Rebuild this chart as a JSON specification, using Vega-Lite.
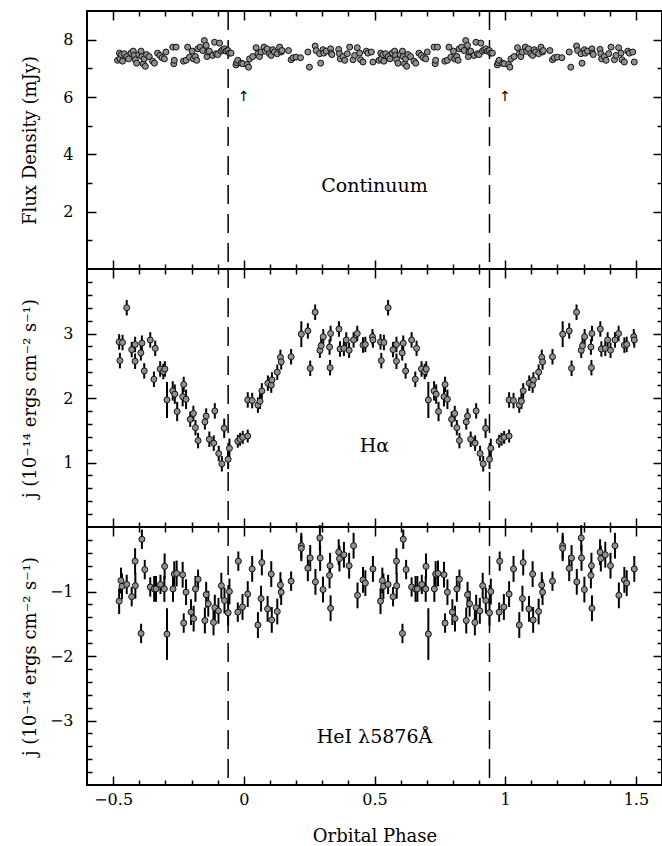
{
"$schema":"https://vega.github.io/schema/vega-lite/v6.json",
"padding":{"left":20,"top":9,"right":0,"bottom":0},
"background":"white",
"datasets":{
"cont":[
{"p":-0.483,"v":7.28},{"p":-0.476,"v":7.53},{"p":-0.474,"v":7.33},{"p":-0.468,"v":7.48},{"p":-0.464,"v":7.25},{"p":-0.457,"v":7.51},{"p":-0.448,"v":7.41},{"p":-0.441,"v":7.33},{"p":-0.432,"v":7.53},{"p":-0.423,"v":7.60},{"p":-0.419,"v":7.45},{"p":-0.415,"v":7.30},{"p":-0.410,"v":7.18},{"p":-0.402,"v":7.48},{"p":-0.393,"v":7.60},{"p":-0.390,"v":7.41},{"p":-0.385,"v":7.16},{"p":-0.381,"v":7.33},{"p":-0.377,"v":7.07},{"p":-0.372,"v":7.48},{"p":-0.362,"v":7.41},{"p":-0.349,"v":7.25},{"p":-0.342,"v":7.18},{"p":-0.330,"v":7.53},{"p":-0.321,"v":7.45},{"p":-0.313,"v":7.37},{"p":-0.304,"v":7.33},{"p":-0.298,"v":7.57},{"p":-0.272,"v":7.74},{"p":-0.268,"v":7.16},{"p":-0.266,"v":7.28},{"p":-0.259,"v":7.74},{"p":-0.231,"v":7.25},{"p":-0.221,"v":7.28},{"p":-0.215,"v":7.74},{"p":-0.208,"v":7.39},{"p":-0.198,"v":7.60},{"p":-0.193,"v":7.33},{"p":-0.185,"v":7.41},{"p":-0.180,"v":7.28},{"p":-0.176,"v":7.68},{"p":-0.167,"v":7.74},{"p":-0.157,"v":7.62},{"p":-0.151,"v":7.97},{"p":-0.144,"v":7.80},{"p":-0.141,"v":7.41},{"p":-0.138,"v":7.57},{"p":-0.132,"v":7.60},{"p":-0.119,"v":7.45},{"p":-0.112,"v":7.91},{"p":-0.106,"v":7.51},{"p":-0.100,"v":7.48},{"p":-0.093,"v":7.88},{"p":-0.087,"v":7.60},{"p":-0.081,"v":7.65},{"p":-0.074,"v":7.68},{"p":-0.068,"v":7.60},{"p":-0.061,"v":7.62},{"p":-0.055,"v":7.53},{"p":-0.049,"v":7.53},{"p":-0.030,"v":7.12},{"p":-0.027,"v":7.20},{"p":-0.023,"v":7.28},{"p":-0.010,"v":7.18},{"p":-0.004,"v":7.16},{"p":0.013,"v":7.13},{"p":0.018,"v":7.04},{"p":0.022,"v":7.33},{"p":0.034,"v":7.41},{"p":0.047,"v":7.72},{"p":0.054,"v":7.51},{"p":0.060,"v":7.41},{"p":0.066,"v":7.57},{"p":0.077,"v":7.74},{"p":0.082,"v":7.60},{"p":0.089,"v":7.68},{"p":0.098,"v":7.51},{"p":0.105,"v":7.45},{"p":0.111,"v":7.65},{"p":0.117,"v":7.57},{"p":0.128,"v":7.51},{"p":0.137,"v":7.74},{"p":0.143,"v":7.57},{"p":0.146,"v":7.62},{"p":0.171,"v":7.62},{"p":0.181,"v":7.30},{"p":0.188,"v":7.37},{"p":0.200,"v":7.39},{"p":0.217,"v":7.37},{"p":0.245,"v":7.57},{"p":0.251,"v":7.04},{"p":0.273,"v":7.78},{"p":0.277,"v":7.62},{"p":0.290,"v":7.51},{"p":0.294,"v":7.18},{"p":0.303,"v":7.65},{"p":0.306,"v":7.53},{"p":0.315,"v":7.60},{"p":0.332,"v":7.68},{"p":0.334,"v":7.53},{"p":0.337,"v":7.48},{"p":0.363,"v":7.66},{"p":0.366,"v":7.51},{"p":0.369,"v":7.33},{"p":0.379,"v":7.41},{"p":0.386,"v":7.28},{"p":0.396,"v":7.51},{"p":0.405,"v":7.74},{"p":0.418,"v":7.30},{"p":0.424,"v":7.45},{"p":0.434,"v":7.72},{"p":0.443,"v":7.53},{"p":0.447,"v":7.30},{"p":0.456,"v":7.22},{"p":0.469,"v":7.60},{"p":0.475,"v":7.53},{"p":0.488,"v":7.57},{"p":0.494,"v":7.22},
{"p":0.517,"v":7.28},{"p":0.524,"v":7.53},{"p":0.526,"v":7.33},{"p":0.532,"v":7.48},{"p":0.536,"v":7.25},{"p":0.543,"v":7.51},{"p":0.552,"v":7.41},{"p":0.559,"v":7.33},{"p":0.568,"v":7.53},{"p":0.577,"v":7.60},{"p":0.581,"v":7.45},{"p":0.585,"v":7.30},{"p":0.590,"v":7.18},{"p":0.598,"v":7.48},{"p":0.607,"v":7.60},{"p":0.610,"v":7.41},{"p":0.615,"v":7.16},{"p":0.619,"v":7.33},{"p":0.623,"v":7.07},{"p":0.628,"v":7.48},{"p":0.638,"v":7.41},{"p":0.651,"v":7.25},{"p":0.658,"v":7.18},{"p":0.670,"v":7.53},{"p":0.679,"v":7.45},{"p":0.687,"v":7.37},{"p":0.696,"v":7.33},{"p":0.702,"v":7.57},{"p":0.728,"v":7.74},{"p":0.732,"v":7.16},{"p":0.734,"v":7.28},{"p":0.741,"v":7.74},{"p":0.769,"v":7.25},{"p":0.779,"v":7.28},{"p":0.785,"v":7.74},{"p":0.792,"v":7.39},{"p":0.802,"v":7.60},{"p":0.807,"v":7.33},{"p":0.815,"v":7.41},{"p":0.820,"v":7.28},{"p":0.824,"v":7.68},{"p":0.833,"v":7.74},{"p":0.843,"v":7.62},{"p":0.849,"v":7.97},{"p":0.856,"v":7.80},{"p":0.859,"v":7.41},{"p":0.862,"v":7.57},{"p":0.868,"v":7.60},{"p":0.881,"v":7.45},{"p":0.888,"v":7.91},{"p":0.894,"v":7.51},{"p":0.900,"v":7.48},{"p":0.907,"v":7.88},{"p":0.913,"v":7.60},{"p":0.919,"v":7.65},{"p":0.926,"v":7.68},{"p":0.932,"v":7.60},{"p":0.939,"v":7.62},{"p":0.945,"v":7.53},{"p":0.951,"v":7.53},{"p":0.970,"v":7.12},{"p":0.973,"v":7.20},{"p":0.977,"v":7.28},{"p":0.990,"v":7.18},{"p":0.996,"v":7.16},{"p":1.013,"v":7.13},{"p":1.018,"v":7.04},{"p":1.022,"v":7.33},{"p":1.034,"v":7.41},{"p":1.047,"v":7.72},{"p":1.054,"v":7.51},{"p":1.060,"v":7.41},{"p":1.066,"v":7.57},{"p":1.077,"v":7.74},{"p":1.082,"v":7.60},{"p":1.089,"v":7.68},{"p":1.098,"v":7.51},{"p":1.105,"v":7.45},{"p":1.111,"v":7.65},{"p":1.117,"v":7.57},{"p":1.128,"v":7.51},{"p":1.137,"v":7.74},{"p":1.143,"v":7.57},{"p":1.146,"v":7.62},{"p":1.171,"v":7.62},{"p":1.181,"v":7.30},{"p":1.188,"v":7.37},{"p":1.200,"v":7.39},{"p":1.217,"v":7.37},{"p":1.245,"v":7.57},{"p":1.251,"v":7.04},{"p":1.273,"v":7.78},{"p":1.277,"v":7.62},{"p":1.290,"v":7.51},{"p":1.294,"v":7.18},{"p":1.303,"v":7.65},{"p":1.306,"v":7.53},{"p":1.315,"v":7.60},{"p":1.332,"v":7.68},{"p":1.334,"v":7.53},{"p":1.337,"v":7.48},{"p":1.363,"v":7.66},{"p":1.366,"v":7.51},{"p":1.369,"v":7.33},{"p":1.379,"v":7.41},{"p":1.386,"v":7.28},{"p":1.396,"v":7.51},{"p":1.405,"v":7.74},{"p":1.418,"v":7.30},{"p":1.424,"v":7.45},{"p":1.434,"v":7.72},{"p":1.443,"v":7.53},{"p":1.447,"v":7.30},{"p":1.456,"v":7.22},{"p":1.469,"v":7.60},{"p":1.475,"v":7.53},{"p":1.488,"v":7.57},{"p":1.494,"v":7.22}
],
"ha":[
{"p":-0.477,"v":2.87,"e":0.12},{"p":-0.474,"v":2.58,"e":0.12},{"p":-0.464,"v":2.86,"e":0.12},{"p":-0.448,"v":3.40,"e":0.12},{"p":-0.429,"v":2.75,"e":0.12},{"p":-0.416,"v":2.83,"e":0.12},{"p":-0.416,"v":2.57,"e":0.12},{"p":-0.394,"v":2.70,"e":0.12},{"p":-0.390,"v":2.85,"e":0.12},{"p":-0.381,"v":2.42,"e":0.12},{"p":-0.358,"v":2.90,"e":0.12},{"p":-0.344,"v":2.29,"e":0.12},{"p":-0.339,"v":2.77,"e":0.12},{"p":-0.320,"v":2.45,"e":0.12},{"p":-0.308,"v":2.41,"e":0.12},{"p":-0.302,"v":2.45,"e":0.12},{"p":-0.294,"v":1.97,"e":0.28},{"p":-0.272,"v":2.11,"e":0.15},{"p":-0.264,"v":2.06,"e":0.15},{"p":-0.255,"v":1.79,"e":0.15},{"p":-0.234,"v":2.02,"e":0.15},{"p":-0.230,"v":2.21,"e":0.12},{"p":-0.221,"v":1.98,"e":0.15},{"p":-0.205,"v":1.67,"e":0.12},{"p":-0.193,"v":1.76,"e":0.12},{"p":-0.185,"v":1.54,"e":0.12},{"p":-0.175,"v":1.34,"e":0.12},{"p":-0.149,"v":1.63,"e":0.12},{"p":-0.144,"v":1.72,"e":0.12},{"p":-0.132,"v":1.36,"e":0.12},{"p":-0.115,"v":1.30,"e":0.12},{"p":-0.111,"v":1.80,"e":0.12},{"p":-0.096,"v":1.14,"e":0.12},{"p":-0.084,"v":0.98,"e":0.12},{"p":-0.075,"v":1.53,"e":0.15},{"p":-0.060,"v":1.05,"e":0.15},{"p":-0.055,"v":1.22,"e":0.15},{"p":-0.023,"v":1.33,"e":0.1},{"p":-0.014,"v":1.36,"e":0.1},{"p":-0.004,"v":1.39,"e":0.1},{"p":0.015,"v":1.41,"e":0.1},{"p":0.015,"v":1.97,"e":0.12},{"p":0.032,"v":1.96,"e":0.12},{"p":0.054,"v":1.89,"e":0.12},{"p":0.062,"v":1.95,"e":0.12},{"p":0.069,"v":2.11,"e":0.12},{"p":0.092,"v":2.23,"e":0.12},{"p":0.105,"v":2.20,"e":0.12},{"p":0.108,"v":2.28,"e":0.12},{"p":0.128,"v":2.40,"e":0.12},{"p":0.140,"v":2.63,"e":0.12},{"p":0.143,"v":2.56,"e":0.12},{"p":0.181,"v":2.64,"e":0.12},{"p":0.220,"v":2.99,"e":0.2},{"p":0.245,"v":3.04,"e":0.12},{"p":0.254,"v":2.46,"e":0.12},{"p":0.273,"v":3.33,"e":0.12},{"p":0.291,"v":2.74,"e":0.12},{"p":0.296,"v":2.81,"e":0.12},{"p":0.304,"v":2.95,"e":0.12},{"p":0.328,"v":2.79,"e":0.12},{"p":0.332,"v":3.00,"e":0.12},{"p":0.330,"v":2.47,"e":0.12},{"p":0.364,"v":3.07,"e":0.12},{"p":0.368,"v":2.76,"e":0.12},{"p":0.383,"v":2.77,"e":0.12},{"p":0.392,"v":2.90,"e":0.12},{"p":0.403,"v":2.74,"e":0.12},{"p":0.420,"v":2.90,"e":0.12},{"p":0.434,"v":3.00,"e":0.12},{"p":0.456,"v":2.82,"e":0.12},{"p":0.465,"v":2.83,"e":0.12},{"p":0.492,"v":2.95,"e":0.12},{"p":0.494,"v":2.90,"e":0.12},
{"p":0.523,"v":2.87,"e":0.12},{"p":0.526,"v":2.58,"e":0.12},{"p":0.536,"v":2.86,"e":0.12},{"p":0.552,"v":3.40,"e":0.12},{"p":0.571,"v":2.75,"e":0.12},{"p":0.584,"v":2.83,"e":0.12},{"p":0.584,"v":2.57,"e":0.12},{"p":0.606,"v":2.70,"e":0.12},{"p":0.610,"v":2.85,"e":0.12},{"p":0.619,"v":2.42,"e":0.12},{"p":0.642,"v":2.90,"e":0.12},{"p":0.656,"v":2.29,"e":0.12},{"p":0.661,"v":2.77,"e":0.12},{"p":0.680,"v":2.45,"e":0.12},{"p":0.692,"v":2.41,"e":0.12},{"p":0.698,"v":2.45,"e":0.12},{"p":0.706,"v":1.97,"e":0.28},{"p":0.728,"v":2.11,"e":0.15},{"p":0.736,"v":2.06,"e":0.15},{"p":0.745,"v":1.79,"e":0.15},{"p":0.766,"v":2.02,"e":0.15},{"p":0.770,"v":2.21,"e":0.12},{"p":0.779,"v":1.98,"e":0.15},{"p":0.795,"v":1.67,"e":0.12},{"p":0.807,"v":1.76,"e":0.12},{"p":0.815,"v":1.54,"e":0.12},{"p":0.825,"v":1.34,"e":0.12},{"p":0.851,"v":1.63,"e":0.12},{"p":0.856,"v":1.72,"e":0.12},{"p":0.868,"v":1.36,"e":0.12},{"p":0.885,"v":1.30,"e":0.12},{"p":0.889,"v":1.80,"e":0.12},{"p":0.904,"v":1.14,"e":0.12},{"p":0.916,"v":0.98,"e":0.12},{"p":0.925,"v":1.53,"e":0.15},{"p":0.940,"v":1.05,"e":0.15},{"p":0.945,"v":1.22,"e":0.15},{"p":0.977,"v":1.33,"e":0.1},{"p":0.986,"v":1.36,"e":0.1},{"p":0.996,"v":1.39,"e":0.1},{"p":1.015,"v":1.41,"e":0.1},{"p":1.015,"v":1.97,"e":0.12},{"p":1.032,"v":1.96,"e":0.12},{"p":1.054,"v":1.89,"e":0.12},{"p":1.062,"v":1.95,"e":0.12},{"p":1.069,"v":2.11,"e":0.12},{"p":1.092,"v":2.23,"e":0.12},{"p":1.105,"v":2.20,"e":0.12},{"p":1.108,"v":2.28,"e":0.12},{"p":1.128,"v":2.40,"e":0.12},{"p":1.140,"v":2.63,"e":0.12},{"p":1.143,"v":2.56,"e":0.12},{"p":1.181,"v":2.64,"e":0.12},{"p":1.220,"v":2.99,"e":0.2},{"p":1.245,"v":3.04,"e":0.12},{"p":1.254,"v":2.46,"e":0.12},{"p":1.273,"v":3.33,"e":0.12},{"p":1.291,"v":2.74,"e":0.12},{"p":1.296,"v":2.81,"e":0.12},{"p":1.304,"v":2.95,"e":0.12},{"p":1.328,"v":2.79,"e":0.12},{"p":1.332,"v":3.00,"e":0.12},{"p":1.330,"v":2.47,"e":0.12},{"p":1.364,"v":3.07,"e":0.12},{"p":1.368,"v":2.76,"e":0.12},{"p":1.383,"v":2.77,"e":0.12},{"p":1.392,"v":2.90,"e":0.12},{"p":1.403,"v":2.74,"e":0.12},{"p":1.420,"v":2.90,"e":0.12},{"p":1.434,"v":3.00,"e":0.12},{"p":1.456,"v":2.82,"e":0.12},{"p":1.465,"v":2.83,"e":0.12},{"p":1.492,"v":2.95,"e":0.12},{"p":1.494,"v":2.90,"e":0.12}
],
"he":[
{"p":-0.477,"v":-1.15,"e":0.2},{"p":-0.470,"v":-0.83,"e":0.2},{"p":-0.466,"v":-0.92,"e":0.2},{"p":-0.448,"v":-0.89,"e":0.15},{"p":-0.429,"v":-1.08,"e":0.15},{"p":-0.416,"v":-0.53,"e":0.2},{"p":-0.415,"v":-0.91,"e":0.2},{"p":-0.393,"v":-1.65,"e":0.15},{"p":-0.390,"v":-0.19,"e":0.15},{"p":-0.379,"v":-0.66,"e":0.15},{"p":-0.358,"v":-0.93,"e":0.15},{"p":-0.343,"v":-0.96,"e":0.2},{"p":-0.336,"v":-0.96,"e":0.2},{"p":-0.319,"v":-0.89,"e":0.15},{"p":-0.303,"v":-0.61,"e":0.2},{"p":-0.304,"v":-0.96,"e":0.2},{"p":-0.294,"v":-1.66,"e":0.4},{"p":-0.271,"v":-0.96,"e":0.2},{"p":-0.266,"v":-0.73,"e":0.2},{"p":-0.257,"v":-0.72,"e":0.2},{"p":-0.234,"v":-0.74,"e":0.2},{"p":-0.230,"v":-1.49,"e":0.15},{"p":-0.221,"v":-1.01,"e":0.2},{"p":-0.202,"v":-1.32,"e":0.2},{"p":-0.192,"v":-1.42,"e":0.2},{"p":-0.185,"v":-0.96,"e":0.2},{"p":-0.175,"v":-0.81,"e":0.15},{"p":-0.149,"v":-1.45,"e":0.2},{"p":-0.144,"v":-1.05,"e":0.2},{"p":-0.136,"v":-1.19,"e":0.2},{"p":-0.116,"v":-1.48,"e":0.2},{"p":-0.111,"v":-1.25,"e":0.2},{"p":-0.097,"v":-1.30,"e":0.2},{"p":-0.086,"v":-0.91,"e":0.2},{"p":-0.074,"v":-1.14,"e":0.2},{"p":-0.060,"v":-1.33,"e":0.2},{"p":-0.055,"v":-1.00,"e":0.2},{"p":-0.021,"v":-0.53,"e":0.15},{"p":-0.023,"v":-1.32,"e":0.15},{"p":-0.005,"v":-1.24,"e":0.2},{"p":0.015,"v":-1.04,"e":0.2},{"p":0.032,"v":-0.65,"e":0.2},{"p":0.054,"v":-1.52,"e":0.2},{"p":0.066,"v":-1.11,"e":0.2},{"p":0.069,"v":-0.55,"e":0.2},{"p":0.091,"v":-1.27,"e":0.2},{"p":0.105,"v":-0.73,"e":0.2},{"p":0.107,"v":-1.44,"e":0.2},{"p":0.128,"v":-1.31,"e":0.2},{"p":0.140,"v":-0.90,"e":0.2},{"p":0.143,"v":-1.01,"e":0.2},{"p":0.181,"v":-0.84,"e":0.15},{"p":0.220,"v":-0.29,"e":0.2},{"p":0.220,"v":-0.33,"e":0.2},{"p":0.245,"v":-0.64,"e":0.2},{"p":0.254,"v":-0.48,"e":0.2},{"p":0.274,"v":-0.85,"e":0.2},{"p":0.291,"v":-0.17,"e":0.2},{"p":0.292,"v":-0.48,"e":0.2},{"p":0.303,"v":-0.97,"e":0.2},{"p":0.330,"v":-0.60,"e":0.2},{"p":0.328,"v":-0.75,"e":0.2},{"p":0.332,"v":-1.26,"e":0.2},{"p":0.363,"v":-0.39,"e":0.2},{"p":0.366,"v":-0.49,"e":0.2},{"p":0.383,"v":-0.43,"e":0.2},{"p":0.403,"v":-0.60,"e":0.2},{"p":0.420,"v":-0.29,"e":0.2},{"p":0.435,"v":-1.06,"e":0.2},{"p":0.456,"v":-0.82,"e":0.2},{"p":0.465,"v":-0.87,"e":0.2},{"p":0.494,"v":-0.65,"e":0.2},
{"p":0.523,"v":-1.15,"e":0.2},{"p":0.530,"v":-0.83,"e":0.2},{"p":0.534,"v":-0.92,"e":0.2},{"p":0.552,"v":-0.89,"e":0.15},{"p":0.571,"v":-1.08,"e":0.15},{"p":0.584,"v":-0.53,"e":0.2},{"p":0.585,"v":-0.91,"e":0.2},{"p":0.607,"v":-1.65,"e":0.15},{"p":0.610,"v":-0.19,"e":0.15},{"p":0.621,"v":-0.66,"e":0.15},{"p":0.642,"v":-0.93,"e":0.15},{"p":0.657,"v":-0.96,"e":0.2},{"p":0.664,"v":-0.96,"e":0.2},{"p":0.681,"v":-0.89,"e":0.15},{"p":0.697,"v":-0.61,"e":0.2},{"p":0.696,"v":-0.96,"e":0.2},{"p":0.706,"v":-1.66,"e":0.4},{"p":0.729,"v":-0.96,"e":0.2},{"p":0.734,"v":-0.73,"e":0.2},{"p":0.743,"v":-0.72,"e":0.2},{"p":0.766,"v":-0.74,"e":0.2},{"p":0.770,"v":-1.49,"e":0.15},{"p":0.779,"v":-1.01,"e":0.2},{"p":0.798,"v":-1.32,"e":0.2},{"p":0.808,"v":-1.42,"e":0.2},{"p":0.815,"v":-0.96,"e":0.2},{"p":0.825,"v":-0.81,"e":0.15},{"p":0.851,"v":-1.45,"e":0.2},{"p":0.856,"v":-1.05,"e":0.2},{"p":0.864,"v":-1.19,"e":0.2},{"p":0.884,"v":-1.48,"e":0.2},{"p":0.889,"v":-1.25,"e":0.2},{"p":0.903,"v":-1.30,"e":0.2},{"p":0.914,"v":-0.91,"e":0.2},{"p":0.926,"v":-1.14,"e":0.2},{"p":0.940,"v":-1.33,"e":0.2},{"p":0.945,"v":-1.00,"e":0.2},{"p":0.979,"v":-0.53,"e":0.15},{"p":0.977,"v":-1.32,"e":0.15},{"p":0.995,"v":-1.24,"e":0.2},{"p":1.015,"v":-1.04,"e":0.2},{"p":1.032,"v":-0.65,"e":0.2},{"p":1.054,"v":-1.52,"e":0.2},{"p":1.066,"v":-1.11,"e":0.2},{"p":1.069,"v":-0.55,"e":0.2},{"p":1.091,"v":-1.27,"e":0.2},{"p":1.105,"v":-0.73,"e":0.2},{"p":1.107,"v":-1.44,"e":0.2},{"p":1.128,"v":-1.31,"e":0.2},{"p":1.140,"v":-0.90,"e":0.2},{"p":1.143,"v":-1.01,"e":0.2},{"p":1.181,"v":-0.84,"e":0.15},{"p":1.220,"v":-0.29,"e":0.2},{"p":1.220,"v":-0.33,"e":0.2},{"p":1.245,"v":-0.64,"e":0.2},{"p":1.254,"v":-0.48,"e":0.2},{"p":1.274,"v":-0.85,"e":0.2},{"p":1.291,"v":-0.17,"e":0.2},{"p":1.292,"v":-0.48,"e":0.2},{"p":1.303,"v":-0.97,"e":0.2},{"p":1.330,"v":-0.60,"e":0.2},{"p":1.328,"v":-0.75,"e":0.2},{"p":1.332,"v":-1.26,"e":0.2},{"p":1.363,"v":-0.39,"e":0.2},{"p":1.366,"v":-0.49,"e":0.2},{"p":1.383,"v":-0.43,"e":0.2},{"p":1.403,"v":-0.60,"e":0.2},{"p":1.420,"v":-0.29,"e":0.2},{"p":1.435,"v":-1.06,"e":0.2},{"p":1.456,"v":-0.82,"e":0.2},{"p":1.465,"v":-0.87,"e":0.2},{"p":1.494,"v":-0.65,"e":0.2}
],
"phasemarks":[{"p":-0.06},{"p":0.94}]
},
"bounds":"flush",
"spacing":0,
"vconcat":[
{
"width":575,"height":258,
"resolve":{"axis":{"x":"independent","y":"independent"}},
"layer":[
{"data":{"name":"phasemarks"},"mark":{"type":"rule","strokeDash":[19,10],"strokeWidth":1.5,"color":"#000"},
 "encoding":{"x":{"field":"p","type":"quantitative","scale":{"domain":[-0.6,1.6],"nice":false,"zero":false},"axis":null}}},
{"data":{"name":"cont"},"mark":{"type":"circle","fill":"#909090","stroke":"#111","strokeWidth":1,"size":36,"opacity":1},
 "encoding":{
  "x":{"field":"p","type":"quantitative","scale":{"domain":[-0.6,1.6],"nice":false,"zero":false},"axis":{"orient":"bottom","values":[-0.5,0,0.5,1,1.5],"tickSize":-9,"labels":false,"title":null}},
  "y":{"field":"v","type":"quantitative","scale":{"domain":[0,9],"nice":false,"zero":false},"axis":{"orient":"left","values":[2,4,6,8],"tickSize":-9,"labelPadding":23,"format":"~g","title":"Flux Density (mJy)","minExtent":34,"maxExtent":34,"titlePadding":14}}}},
{"data":{"values":[{"label":"Continuum","p":0.5,"v":2.9}]},"mark":{"type":"text","font":"DejaVu Serif","fontSize":19,"color":"#000"},
 "encoding":{"x":{"field":"p","type":"quantitative","scale":{"domain":[-0.6,1.6],"nice":false,"zero":false},"axis":null},"y":{"field":"v","type":"quantitative","scale":{"domain":[0,9],"nice":false,"zero":false},"axis":null},"text":{"field":"label"}}},
{"data":{"values":[{"p":0,"v":6},{"p":1,"v":6}]},"mark":{"type":"text","text":"↑","font":"DejaVu Sans","fontSize":14,"baseline":"middle","color":"#000"},
 "encoding":{"x":{"field":"p","type":"quantitative","scale":{"domain":[-0.6,1.6],"nice":false,"zero":false},"axis":null},"y":{"field":"v","type":"quantitative","scale":{"domain":[0,9],"nice":false,"zero":false},"axis":null}}},
{"data":{"name":"cont"},"mark":{"type":"point","opacity":0},
 "encoding":{
  "x":{"field":"p","type":"quantitative","scale":{"domain":[-0.6,1.6],"nice":false,"zero":false},"axis":{"orient":"bottom","values":[-0.4,-0.3,-0.2,-0.1,0.1,0.2,0.3,0.4,0.6,0.7,0.8,0.9,1.1,1.2,1.3,1.4],"tickSize":-5,"labels":false,"title":null}},
  "y":{"field":"v","type":"quantitative","scale":{"domain":[0,9],"nice":false,"zero":false},"axis":{"orient":"left","values":[1,3,5,7],"tickSize":-5,"labels":false,"title":null}}}},
{"data":{"name":"cont"},"mark":{"type":"point","opacity":0},
 "encoding":{
  "x":{"field":"p","type":"quantitative","scale":{"domain":[-0.6,1.6],"nice":false,"zero":false},"axis":{"orient":"top","values":[-0.5,0,0.5,1,1.5],"tickSize":-9,"labels":false,"title":null}},
  "y":{"field":"v","type":"quantitative","scale":{"domain":[0,9],"nice":false,"zero":false},"axis":{"orient":"right","values":[2,4,6,8],"tickSize":-9,"labels":false,"title":null}}}},
{"data":{"name":"cont"},"mark":{"type":"point","opacity":0},
 "encoding":{
  "x":{"field":"p","type":"quantitative","scale":{"domain":[-0.6,1.6],"nice":false,"zero":false},"axis":{"orient":"top","values":[-0.4,-0.3,-0.2,-0.1,0.1,0.2,0.3,0.4,0.6,0.7,0.8,0.9,1.1,1.2,1.3,1.4],"tickSize":-5,"labels":false,"title":null}},
  "y":{"field":"v","type":"quantitative","scale":{"domain":[0,9],"nice":false,"zero":false},"axis":{"orient":"right","values":[1,3,5,7],"tickSize":-5,"labels":false,"title":null}}}}
]
},
{
"width":575,"height":258,
"resolve":{"axis":{"x":"independent","y":"independent"}},
"layer":[
{"data":{"name":"phasemarks"},"mark":{"type":"rule","strokeDash":[19,10],"strokeWidth":1.5,"color":"#000"},
 "encoding":{"x":{"field":"p","type":"quantitative","scale":{"domain":[-0.6,1.6],"nice":false,"zero":false},"axis":null}}},
{"data":{"name":"ha"},"mark":{"type":"errorbar","thickness":2,"color":"#000"},
 "encoding":{"x":{"field":"p","type":"quantitative","scale":{"domain":[-0.6,1.6],"nice":false,"zero":false},"axis":null},"y":{"field":"v","type":"quantitative","scale":{"domain":[0,4],"nice":false,"zero":false},"axis":null},"yError":{"field":"e"}}},
{"data":{"name":"ha"},"mark":{"type":"circle","fill":"#909090","stroke":"#111","strokeWidth":1,"size":36,"opacity":1},
 "encoding":{
  "x":{"field":"p","type":"quantitative","scale":{"domain":[-0.6,1.6],"nice":false,"zero":false},"axis":{"orient":"bottom","values":[-0.5,0,0.5,1,1.5],"tickSize":-9,"labels":false,"title":null}},
  "y":{"field":"v","type":"quantitative","scale":{"domain":[0,4],"nice":false,"zero":false},"axis":{"orient":"left","values":[1,2,3],"tickSize":-9,"labelPadding":23,"format":"~g","title":"j (10⁻¹⁴ ergs cm⁻² s⁻¹)","minExtent":34,"maxExtent":34,"titlePadding":14}}}},
{"data":{"values":[{"label":"Hα","p":0.5,"v":1.26}]},"mark":{"type":"text","font":"DejaVu Serif","fontSize":19,"color":"#000"},
 "encoding":{"x":{"field":"p","type":"quantitative","scale":{"domain":[-0.6,1.6],"nice":false,"zero":false},"axis":null},"y":{"field":"v","type":"quantitative","scale":{"domain":[0,4],"nice":false,"zero":false},"axis":null},"text":{"field":"label"}}},
{"data":{"name":"ha"},"mark":{"type":"point","opacity":0},
 "encoding":{
  "x":{"field":"p","type":"quantitative","scale":{"domain":[-0.6,1.6],"nice":false,"zero":false},"axis":{"orient":"bottom","values":[-0.4,-0.3,-0.2,-0.1,0.1,0.2,0.3,0.4,0.6,0.7,0.8,0.9,1.1,1.2,1.3,1.4],"tickSize":-5,"labels":false,"title":null}},
  "y":{"field":"v","type":"quantitative","scale":{"domain":[0,4],"nice":false,"zero":false},"axis":{"orient":"left","values":[0.2,0.4,0.6,0.8,1.2,1.4,1.6,1.8,2.2,2.4,2.6,2.8,3.2,3.4,3.6,3.8],"tickSize":-5,"labels":false,"title":null}}}},
{"data":{"name":"ha"},"mark":{"type":"point","opacity":0},
 "encoding":{
  "x":{"field":"p","type":"quantitative","scale":{"domain":[-0.6,1.6],"nice":false,"zero":false},"axis":{"orient":"top","values":[-0.5,0,0.5,1,1.5],"tickSize":-9,"labels":false,"title":null}},
  "y":{"field":"v","type":"quantitative","scale":{"domain":[0,4],"nice":false,"zero":false},"axis":{"orient":"right","values":[1,2,3],"tickSize":-9,"labels":false,"title":null}}}},
{"data":{"name":"ha"},"mark":{"type":"point","opacity":0},
 "encoding":{
  "x":{"field":"p","type":"quantitative","scale":{"domain":[-0.6,1.6],"nice":false,"zero":false},"axis":{"orient":"top","values":[-0.4,-0.3,-0.2,-0.1,0.1,0.2,0.3,0.4,0.6,0.7,0.8,0.9,1.1,1.2,1.3,1.4],"tickSize":-5,"labels":false,"title":null}},
  "y":{"field":"v","type":"quantitative","scale":{"domain":[0,4],"nice":false,"zero":false},"axis":{"orient":"right","values":[0.2,0.4,0.6,0.8,1.2,1.4,1.6,1.8,2.2,2.4,2.6,2.8,3.2,3.4,3.6,3.8],"tickSize":-5,"labels":false,"title":null}}}}
]
},
{
"width":575,"height":258,
"resolve":{"axis":{"x":"independent","y":"independent"}},
"layer":[
{"data":{"name":"phasemarks"},"mark":{"type":"rule","strokeDash":[19,10],"strokeWidth":1.5,"color":"#000"},
 "encoding":{"x":{"field":"p","type":"quantitative","scale":{"domain":[-0.6,1.6],"nice":false,"zero":false},"axis":null}}},
{"data":{"name":"he"},"mark":{"type":"errorbar","thickness":2,"color":"#000"},
 "encoding":{"x":{"field":"p","type":"quantitative","scale":{"domain":[-0.6,1.6],"nice":false,"zero":false},"axis":null},"y":{"field":"v","type":"quantitative","scale":{"domain":[-4,0],"nice":false,"zero":false},"axis":null},"yError":{"field":"e"}}},
{"data":{"name":"he"},"mark":{"type":"circle","fill":"#909090","stroke":"#111","strokeWidth":1,"size":36,"opacity":1},
 "encoding":{
  "x":{"field":"p","type":"quantitative","scale":{"domain":[-0.6,1.6],"nice":false,"zero":false},"axis":{"orient":"bottom","values":[-0.5,0,0.5,1,1.5],"tickSize":-9,"labelPadding":15,"format":"~g","title":"Orbital Phase","titlePadding":20,"titleFontSize":18}},
  "y":{"field":"v","type":"quantitative","scale":{"domain":[-4,0],"nice":false,"zero":false},"axis":{"orient":"left","values":[-1,-2,-3],"tickSize":-9,"labelPadding":23,"format":"~g","title":"j (10⁻¹⁴ ergs cm⁻² s⁻¹)","minExtent":34,"maxExtent":34,"titlePadding":14}}}},
{"data":{"values":[{"label":"HeI λ5876Å","p":0.5,"v":-3.25}]},"mark":{"type":"text","font":"DejaVu Serif","fontSize":19,"color":"#000"},
 "encoding":{"x":{"field":"p","type":"quantitative","scale":{"domain":[-0.6,1.6],"nice":false,"zero":false},"axis":null},"y":{"field":"v","type":"quantitative","scale":{"domain":[-4,0],"nice":false,"zero":false},"axis":null},"text":{"field":"label"}}},
{"data":{"name":"he"},"mark":{"type":"point","opacity":0},
 "encoding":{
  "x":{"field":"p","type":"quantitative","scale":{"domain":[-0.6,1.6],"nice":false,"zero":false},"axis":{"orient":"bottom","values":[-0.4,-0.3,-0.2,-0.1,0.1,0.2,0.3,0.4,0.6,0.7,0.8,0.9,1.1,1.2,1.3,1.4],"tickSize":-5,"labels":false,"title":null}},
  "y":{"field":"v","type":"quantitative","scale":{"domain":[-4,0],"nice":false,"zero":false},"axis":{"orient":"left","values":[-0.2,-0.4,-0.6,-0.8,-1.2,-1.4,-1.6,-1.8,-2.2,-2.4,-2.6,-2.8,-3.2,-3.4,-3.6,-3.8],"tickSize":-5,"labels":false,"title":null}}}},
{"data":{"name":"he"},"mark":{"type":"point","opacity":0},
 "encoding":{
  "x":{"field":"p","type":"quantitative","scale":{"domain":[-0.6,1.6],"nice":false,"zero":false},"axis":{"orient":"top","values":[-0.5,0,0.5,1,1.5],"tickSize":-9,"labels":false,"title":null}},
  "y":{"field":"v","type":"quantitative","scale":{"domain":[-4,0],"nice":false,"zero":false},"axis":{"orient":"right","values":[-1,-2,-3],"tickSize":-9,"labels":false,"title":null}}}},
{"data":{"name":"he"},"mark":{"type":"point","opacity":0},
 "encoding":{
  "x":{"field":"p","type":"quantitative","scale":{"domain":[-0.6,1.6],"nice":false,"zero":false},"axis":{"orient":"top","values":[-0.4,-0.3,-0.2,-0.1,0.1,0.2,0.3,0.4,0.6,0.7,0.8,0.9,1.1,1.2,1.3,1.4],"tickSize":-5,"labels":false,"title":null}},
  "y":{"field":"v","type":"quantitative","scale":{"domain":[-4,0],"nice":false,"zero":false},"axis":{"orient":"right","values":[-0.2,-0.4,-0.6,-0.8,-1.2,-1.4,-1.6,-1.8,-2.2,-2.4,-2.6,-2.8,-3.2,-3.4,-3.6,-3.8],"tickSize":-5,"labels":false,"title":null}}}}
]
}
],
"resolve":{"scale":{"x":"independent","y":"independent"}},
"config":{
 "view":{"stroke":"#000","strokeWidth":2},
 "concat":{"spacing":0},
 "axis":{"domain":false,"grid":false,"tickColor":"#000","tickWidth":1.5,"labelFont":"DejaVu Serif","labelFontSize":16,"labelColor":"#000","labelPadding":10,"titleFont":"DejaVu Serif","titleFontSize":18,"titleFontWeight":"normal","titleColor":"#000"}
}
}
